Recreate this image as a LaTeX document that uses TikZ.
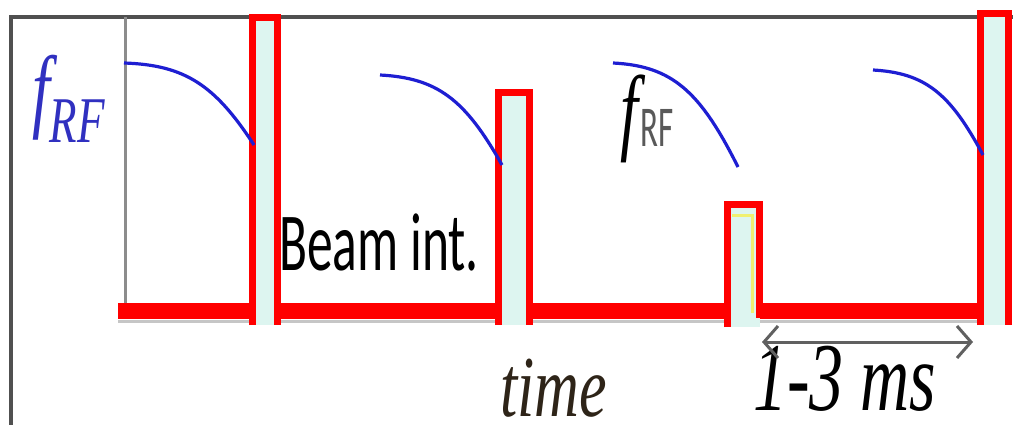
\documentclass[tikz,border=0pt]{standalone}
\usepackage{fontspec}
\setmainfont{Liberation Serif}
\newfontfamily\calfont{Carlito}
\usepackage{graphicx}
\usetikzlibrary{arrows.meta}
\definecolor{rfblue}{HTML}{1E1ED2}
\definecolor{lblblue}{HTML}{3030C0}
\definecolor{pulsecyan}{HTML}{DDF5F0}
\definecolor{framegray}{HTML}{505050}
\definecolor{pulseyellow}{HTML}{F0F070}
\definecolor{rfgray}{HTML}{595959}
\definecolor{timebrown}{HTML}{2E2418}
\newcommand{\tallbox}[2]{\scalebox{1}[#1]{#2}}

\begin{document}
\begin{tikzpicture}[x=1pt,y=-1pt,
  framebar/.style={framegray,line width=3.5pt},
  pulse/.style={red,line width=7pt},
  pulsefill/.style={fill=pulsecyan},
  beamline/.style={red,line width=16pt},
  rf/.style={rfblue,line width=3.2pt},
  lbl/.style={inner sep=0pt,anchor=base west}]
  \useasboundingbox (0,0) rectangle (1013,425);
  % frame
  \draw[framebar] (11,425) -- (11,17) -- (1013,17);
  \draw[gray!90,line width=3pt] (125,17) -- (125,306);
  % beam intensity
  \draw[gray!45,line width=3pt] (118,321) -- (1000,321);
  \draw[beamline] (118,311) -- (984,311);
  \fill[pulsefill] (252.5,17.5) rectangle (277.5,325);
  \draw[pulse] (252.5,325) |- (277.5,17.5) -- (277.5,325);
  \fill[pulsefill] (498.5,92.5) rectangle (529.5,325);
  \draw[pulse] (498.5,325) |- (529.5,92.5) -- (529.5,325);
  \fill[pulsefill] (727.5,204.5) rectangle (759.5,327);
  \draw[pulseyellow,line width=3pt] (732,215.5) -| (752.5,313);
  \draw[pulse] (727.5,327) |- (759.5,204.5) -- (759.5,318);
  \fill[pulsefill] (980.5,13.5) rectangle (1008.5,325);
  \draw[pulse] (980.5,325) |- (1008.5,13.5) -- (1008.5,325);
  % rf frequency
  \draw[rf] (124,63) .. controls (185,65) and (215,85) .. (254,145);
  \draw[rf] (380,75) .. controls (437,78) and (465,99) .. (502,165);
  \draw[rf] (613,63) .. controls (672,66) and (700,91) .. (738,167);
  \draw[rf] (873,70) .. controls (925,73) and (950,93) .. (983,155);
  % labels
  \node[lbl,text=lblblue] (frf) at (32,121)
    {\tallbox{1.45}{\fontsize{64}{70}\selectfont\itshape f\raisebox{-15pt}{\fontsize{45}{50}\selectfont RF}}};
  \node[lbl] (beam) at (279,270) {\tallbox{1.6}{\calfont\fontsize{51.5}{60}\selectfont Beam int.}};
  \node[lbl] (frfb) at (620,143) {\tallbox{1.5}{\fontsize{64}{70}\selectfont\itshape f}};
  \node[lbl,text=rfgray] (rfb) at (640,147) {\tallbox{1.75}{\calfont\fontsize{33}{40}\selectfont RF}};
  \node[lbl,text=timebrown] (timelbl) at (500,416) {\tallbox{1.4}{\fontsize{62}{70}\selectfont\itshape time}};
  \node[lbl] (mslbl) at (753,410) {\tallbox{1.43}{\fontsize{68}{76}\selectfont\itshape 1-3 ms}};
  % pulse spacing
  \coordinate (msl) at (762,342);
  \coordinate (msr) at (973,342);
  \draw[{Straight Barb[length=14pt,width=32pt]}-{Straight Barb[length=14pt,width=32pt]},
    line width=3pt,gray!75!black] (msl) -- (msr);
\end{tikzpicture}
\end{document}
